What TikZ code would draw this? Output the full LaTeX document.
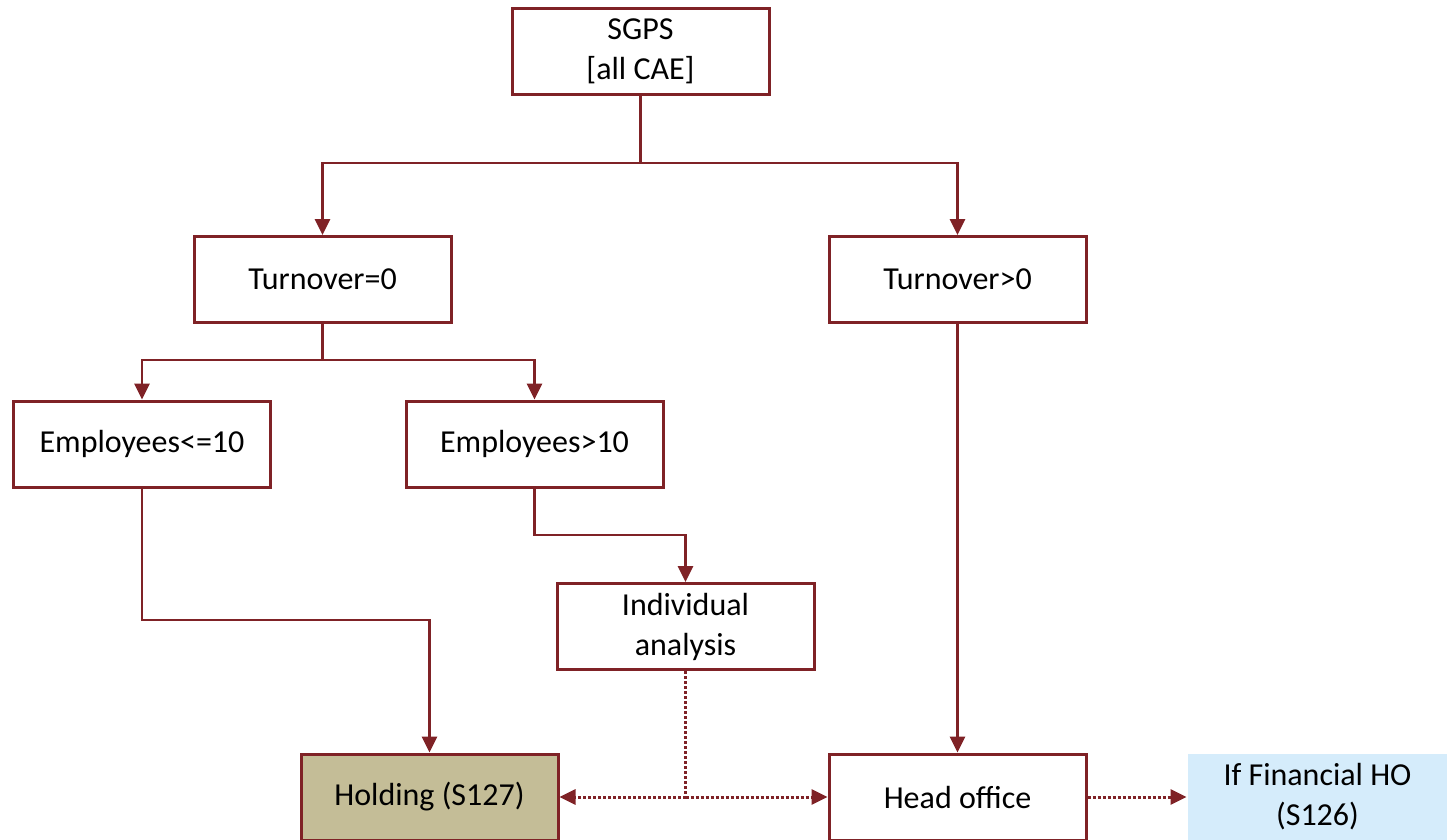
\documentclass[tikz,border=0pt]{standalone}
\usepackage{fontspec}
\setmainfont{Carlito}
\usetikzlibrary{arrows.meta}
\definecolor{wine}{HTML}{7F2226}
\definecolor{tan}{HTML}{C4BD97}
\definecolor{skyb}{HTML}{D5ECFB}
\begin{document}
\begin{tikzpicture}[x=1pt,y=-1pt,
  box/.style={draw=wine,line width=3pt,minimum width=257pt,minimum height=86pt,inner sep=0pt,align=center,font=\fontsize{32}{40}\selectfont},
  conn/.style={draw=wine,line width=2.7pt,-{Triangle[length=16pt,width=15pt]}},
  dotc/.style={draw=wine,line width=3pt,dash pattern=on 3pt off 2pt},
  dotarr/.style={dotc,-{Triangle[length=16pt,width=15pt]}}]
\useasboundingbox (0,0) rectangle (1447,839);
\node[box] (sgps) at (640.5,51.5) {SGPS\\{[all CAE]}};
\node[box] (t0) at (322.5,279.5) {Turnover=0};
\node[box] (tp) at (957.5,279.5) {Turnover>0};
\node[box] (el) at (142,444) {Employees<=10};
\node[box] (eg) at (534.5,444) {Employees>10};
\node[box] (ia) at (685.5,626.5) {Individual\\analysis};
\node[box,fill=tan] (hold) at (429.5,797) {Holding (S127)};
\node[box] (ho) at (957.5,797) {Head office};
\node[box,draw=none,fill=skyb,minimum width=259pt] (fin) at (1317.5,797) {If Financial HO\\(S126)};
\coordinate (j1) at (640.5,163);
\coordinate (j2) at (322.5,360);
\coordinate (j3) at (685.5,797);
\draw[conn] (sgps.south) -- (j1) -| (t0.north);
\draw[conn] (j1) -| (tp.north);
\draw[conn] (t0.south) -- (j2) -| (el.north);
\draw[conn] (j2) -| (eg.north);
\draw[conn] (el.south) |- (285,620) -| (hold.north);
\draw[conn] (eg.south) |- (600,535) -| (ia.north);
\draw[conn] (tp.south) -- (ho.north);
\draw[dotc] (ia.south) -- (j3);
\draw[dotarr] (j3) -- (hold.east);
\draw[dotarr] (j3) -- (ho.west);
\draw[dotarr] (ho.east) -- (fin.west);
\end{tikzpicture}
\end{document}
